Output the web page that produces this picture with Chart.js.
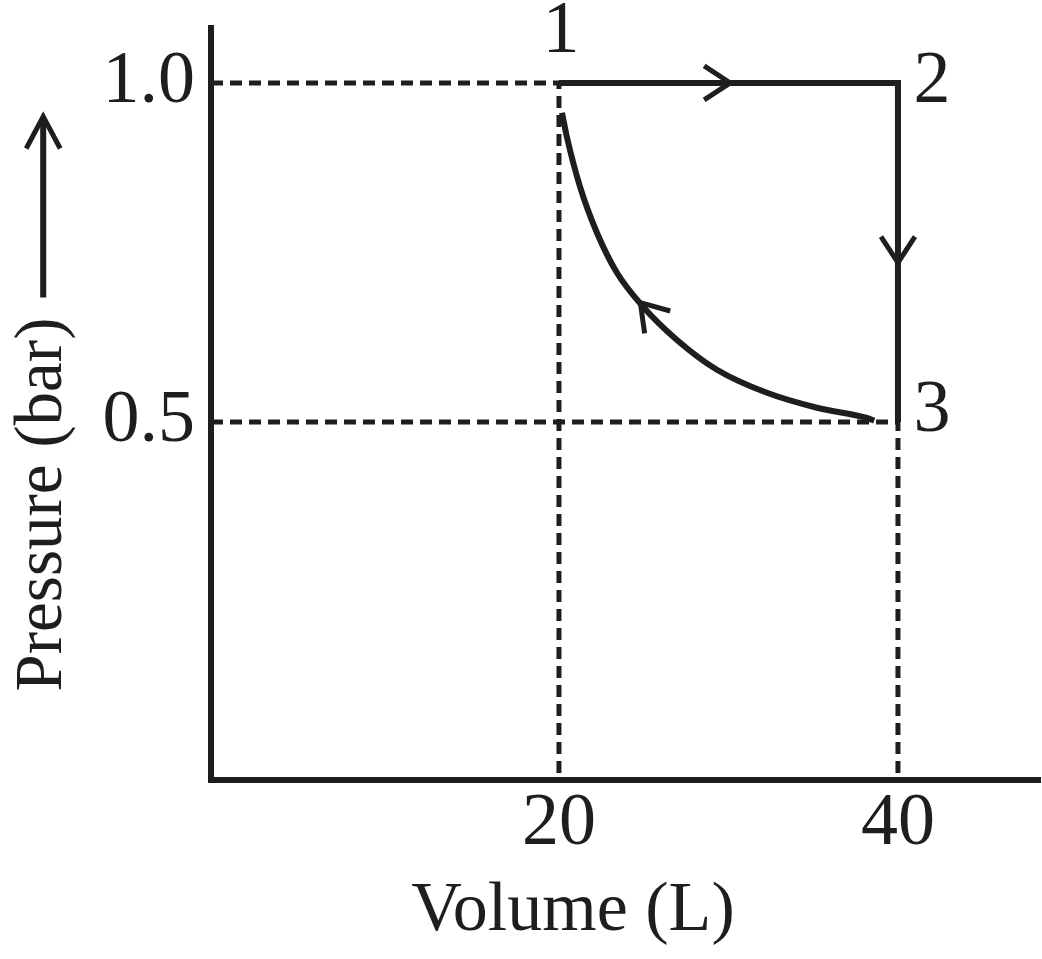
<!DOCTYPE html>
<html>
<head>
<meta charset="utf-8">
<script src="https://cdn.jsdelivr.net/npm/chart.js@4.4.1/dist/chart.umd.min.js"></script>
<style>
  html, body { margin: 0; padding: 0; background: #fff; }
  #wrap { width: 1042px; height: 959px; }
</style>
</head>
<body>
<div id="wrap"><canvas id="pvChart"></canvas></div>
<script>
const volumeTicks = [20, 40]
const pressureTicks = [0.5, 1.0]

// states 1, 2, 3
const stateLabels = ['1', '2', '3']
const stateVolume = [20, 40, 40]
const statePressure = [1.0, 1.0, 0.5]

// curved path between 3 and 1
const curveVolume = [20.18, 20.47, 21.24, 22.24, 23.42, 24.96, 26.96, 29.32, 32.27, 35.22, 38.17, 38.6]
const curvePressure = [0.956, 0.920, 0.847, 0.779, 0.720, 0.670, 0.621, 0.577, 0.543, 0.521, 0.506, 0.502]

// flow arrows: where the tip sits and where the flow comes from
const arrowTipVolume = [30.1, 40, 24.8]
const arrowTipPressure = [1.0, 0.735, 0.676]
const arrowFromVolume = [20, 40, 26.2]
const arrowFromPressure = [1.0, 1.0, 0.636]

const V_MIN = -0.53, V_MAX = 48.38
const P_MIN = -0.028, P_MAX = 1.081

const INK = '#1e1e1e'
const FONT = '"Liberation Serif", "Times New Roman", serif'
const Y_TITLE_SIZE = 67
const Y_TITLE_PAD = 3
const Y_TITLE_LABEL = 'Pressure (bar)'
const Y_TITLE_TEXT = Y_TITLE_LABEL + '\u2002\u2002\u2002\u2002\u2002\u2002'

Chart.defaults.font.family = FONT
Chart.defaults.color = INK

const pts = (xs, ys) => xs.map((v, i) => ({ x: v, y: ys[i] }))

const pathStyle = {
    borderColor: INK, borderWidth: 6, pointRadius: 0, showLine: true, fill: false,
    borderJoinStyle: 'miter', borderCapStyle: 'butt', order: 1
}
const guideStyle = {
    borderColor: INK, borderWidth: 5, borderDash: [12, 7], pointRadius: 0, showLine: true,
    fill: false, borderCapStyle: 'butt', order: 2
}

const flowArrows = {
    id: 'flowArrows',
    afterDatasetsDraw (chart) {
        const { ctx, scales: { x, y } } = chart
        ctx.save()
        ctx.strokeStyle = INK
        ctx.lineWidth = 5
        ctx.lineJoin = 'miter'
        arrowTipVolume.forEach((v, i) => {
            const tx = x.getPixelForValue(v), ty = y.getPixelForValue(arrowTipPressure[i])
            const fx = x.getPixelForValue(arrowFromVolume[i]), fy = y.getPixelForValue(arrowFromPressure[i])
            const a = Math.atan2(ty - fy, tx - fx)
            const back = 26, half = 17
            const bx = tx - back * Math.cos(a), by = ty - back * Math.sin(a)
            const px = -Math.sin(a) * half, py = Math.cos(a) * half
            ctx.beginPath()
            ctx.moveTo(bx + px, by + py)
            ctx.lineTo(tx, ty)
            ctx.lineTo(bx - px, by - py)
            ctx.stroke()
        })
        ctx.restore()
    }
}

const stateNames = {
    id: 'stateNames',
    afterDatasetsDraw (chart) {
        const { ctx, scales: { x, y } } = chart
        const offsets = [[2, -50], [34, 0], [34, -10]]
        ctx.save()
        ctx.font = `74px ${FONT}`
        ctx.fillStyle = INK
        ctx.textAlign = 'center'
        ctx.textBaseline = 'middle'
        stateLabels.forEach((t, i) => {
            ctx.fillText(t, x.getPixelForValue(stateVolume[i]) + offsets[i][0],
                y.getPixelForValue(statePressure[i]) + offsets[i][1])
        })
        ctx.restore()
    }
}

// the long arrow beside the pressure title
const titleArrow = {
    id: 'titleArrow',
    afterDraw (chart) {
        const { ctx, chartArea } = chart
        const ys = chart.scales.y
        ctx.save()
        ctx.font = `${Y_TITLE_SIZE}px ${FONT}`
        const full = ctx.measureText(Y_TITLE_TEXT).width
        const lab = ctx.measureText(Y_TITLE_LABEL).width
        const mid = (chartArea.top + chartArea.bottom) / 2
        const cx = ys.left + Y_TITLE_PAD + Y_TITLE_SIZE * 1.2 / 2
        const bottom = mid + full / 2 - lab - 20
        const top = mid - full / 2
        ctx.strokeStyle = INK
        ctx.lineWidth = 6
        ctx.beginPath()
        ctx.moveTo(cx, bottom)
        ctx.lineTo(cx, top + 3)
        ctx.stroke()
        ctx.lineWidth = 5
        ctx.beginPath()
        ctx.moveTo(cx - 17, top + 32)
        ctx.lineTo(cx, top)
        ctx.lineTo(cx + 17, top + 32)
        ctx.stroke()
        ctx.restore()
    }
}

const data = {
    datasets: [
        { label: '1-2-3', data: pts(stateVolume, statePressure), ...pathStyle },
        { label: '3-1', data: pts(curveVolume, curvePressure), cubicInterpolationMode: 'monotone', ...pathStyle },
        { label: 'guide 1', data: [{ x: V_MIN, y: statePressure[0] }, { x: stateVolume[0], y: statePressure[0] }, { x: stateVolume[0], y: P_MIN }], ...guideStyle },
        { label: 'guide 3', data: [{ x: V_MIN, y: statePressure[2] }, { x: stateVolume[2], y: statePressure[2] }, { x: stateVolume[2], y: P_MIN }], ...guideStyle }
    ]
}

const options = {
    responsive: true,
    maintainAspectRatio: false,
    animation: false,
    layout: { padding: { top: 28, right: 2, bottom: 0, left: 0 } },
    plugins: { legend: { display: false }, tooltip: { enabled: false } },
    scales: {
        x: {
            type: 'linear', min: V_MIN, max: V_MAX,
            grid: { display: false, drawTicks: false },
            border: { display: true, width: 6, color: INK },
            afterBuildTicks: s => { s.ticks = volumeTicks.map(v => ({ value: v })) },
            afterFit: s => { s.height = 179; s.paddingLeft = 0; s.paddingRight = 0 },
            ticks: { font: { size: 74 }, color: INK, padding: 0, autoSkip: false, maxRotation: 0, callback: v => String(v) },
            title: { display: true, text: 'Volume (L)\u2002\u2002\u2002', font: { size: 70 }, color: INK, padding: { top: 0, bottom: 5 } }
        },
        y: {
            type: 'linear', min: P_MIN, max: P_MAX,
            grid: { display: false, drawTicks: false },
            border: { display: true, width: 6, color: INK },
            afterBuildTicks: s => { s.ticks = pressureTicks.map(v => ({ value: v })) },
            afterFit: s => { s.width = 211; s.paddingTop = 0; s.paddingBottom = 0 },
            ticks: { font: { size: 74 }, color: INK, padding: 16, autoSkip: false, callback: v => v.toFixed(1) },
            title: { display: true, text: Y_TITLE_TEXT, font: { size: Y_TITLE_SIZE }, color: INK, padding: { top: Y_TITLE_PAD, bottom: 0 } }
        }
    }
}

const pvChart = new Chart(document.getElementById('pvChart'), {
    type: 'scatter',
    data,
    options,
    plugins: [flowArrows, stateNames, titleArrow]
})
</script>
</body>
</html>
